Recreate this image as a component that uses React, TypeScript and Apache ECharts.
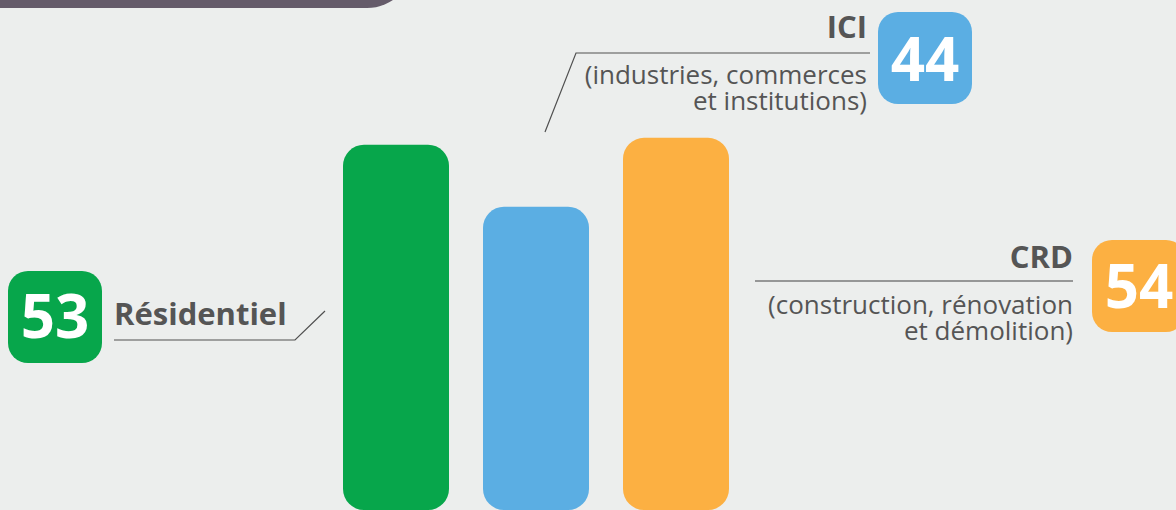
import React, { useEffect, useRef } from "react";
import * as echarts from "echarts";

const categories = ["Résidentiel", "ICI", "CRD"];
const values = [53, 44, 54];
const subtitles = [[], ["(industries, commerces", "et institutions)"], ["(construction, rénovation", "et démolition)"]];

const COLORS = ["#07a64b", "#5baee3", "#fcb042"];
const BG = "#eceeed";
const TEXT = "#555555";
const FONT = "'Open Sans', 'Noto Sans', sans-serif";

export default function App() {
  const ref = useRef<HTMLDivElement>(null);
  useEffect(() => {
    if (!ref.current) return;
    const chart = echarts.init(ref.current, null, { renderer: "svg" });

    const badge = (x: number, y: number, color: string, val: number, cx: number, cy: number) => [
      { type: "rect", shape: { x, y, width: 94, height: 92, r: 20 }, style: { fill: color }, z: 10 },
      {
        type: "text",
        x: cx,
        y: cy,
        z: 11,
        style: {
          text: String(val),
          fill: "#ffffff",
          fontFamily: FONT,
          fontWeight: "bold",
          fontSize: 60,
          textAlign: "center",
          textVerticalAlign: "middle",
        },
      },
    ];

    const titleText = (x: number, y: number, text: string, align: string) => ({
      type: "text",
      x,
      y,
      z: 11,
      style: {
        text,
        fill: TEXT,
        fontFamily: FONT,
        fontWeight: "bold",
        fontSize: 31,
        textAlign: align,
        textVerticalAlign: "middle",
      },
    });

    const subText = (x: number, y: number, lines: string[]) =>
      lines.map((t, i) => ({
        type: "text",
        x,
        y: y + i * 26,
        z: 11,
        style: {
          text: t,
          fill: TEXT,
          fontFamily: FONT,
          fontSize: 26,
          lineHeight: 26,
          textAlign: "right",
          textVerticalAlign: "middle",
        },
      }));

    const line = (points: number[][], color = "#505050", w = 1.2) => ({
      type: "polyline",
      z: 9,
      shape: { points },
      style: { stroke: color, lineWidth: w, fill: "none" },
    });

    chart.setOption({
      animation: false,
      backgroundColor: BG,
      grid: { left: 326, width: 420, top: 0, bottom: 0 },
      xAxis: { type: "category", data: categories, show: false },
      yAxis: { type: "value", min: 0, max: 74, show: false, splitLine: { show: false } },
      series: [
        {
          type: "bar",
          barWidth: 106,
          data: values.map((v, i) => ({ value: v, itemStyle: { color: COLORS[i], borderRadius: 21 } })),
        },
      ],
      graphic: [
        { type: "rect", shape: { x: -50, y: -200, width: 463, height: 208, r: 46 }, style: { fill: "#655b6a" }, z: 10 },
        ...badge(8, 271, COLORS[0], values[0], 55, 315),
        titleText(114, 313, categories[0], "left"),
        line([[114, 340], [295, 340], [325, 311]]),
        ...badge(878, 12, COLORS[1], values[1], 925, 58),
        titleText(867, 26, categories[1], "right"),
        ...subText(867, 74, subtitles[1]),
        line([[870, 53], [576, 53], [545, 132]]),
        ...badge(1092, 240, COLORS[2], values[2], 1139, 285),
        titleText(1073, 256, categories[2], "right"),
        ...subText(1073, 304, subtitles[2]),
        line([[755, 281], [1073, 281]], "#7a7a7a", 1.5),
      ],
    });
    return () => chart.dispose();
  }, []);
  return <div ref={ref} style={{ position: "fixed", left: 0, top: 0, width: 1176, height: 510 }} />;
}
